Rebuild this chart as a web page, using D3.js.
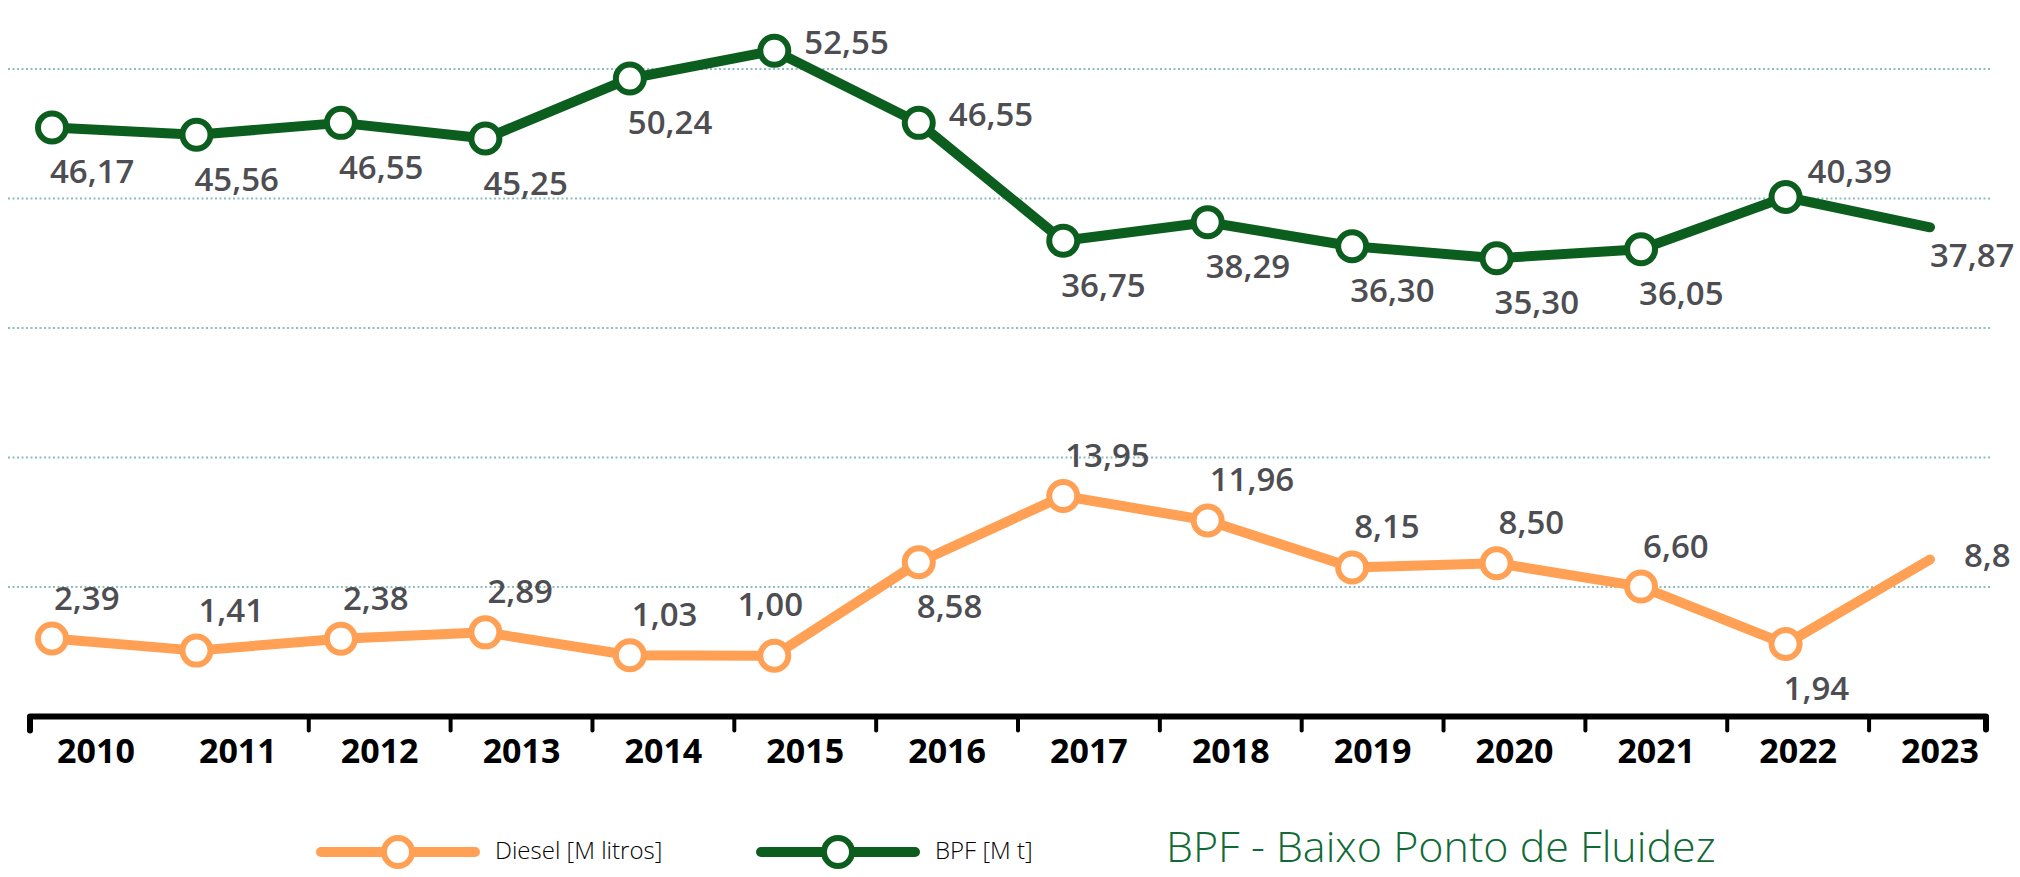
<!DOCTYPE html>
<html>
<head>
<meta charset="utf-8">
<script src="https://cdn.jsdelivr.net/npm/d3@7"></script>
<style>
  html, body { margin: 0; padding: 0; background: #ffffff; }
  svg { display: block; font-family: "Open Sans", "Noto Sans", sans-serif; }
  .narrow { font-stretch: 95%; }
</style>
</head>
<body>
<svg id="chart" width="2020" height="877"></svg>
<script>
// Years on the horizontal axis
const years = ["2010", "2011", "2012", "2013", "2014", "2015", "2016",
               "2017", "2018", "2019", "2020", "2021", "2022", "2023"];

// BPF (Baixo Ponto de Fluidez), millions of tonnes
const bpfValues = [46.17, 45.56, 46.55, 45.25, 50.24, 52.55, 46.55,
                   36.75, 38.29, 36.30, 35.30, 36.05, 40.39, 37.87];
const bpfLabels = ["46,17", "45,56", "46,55", "45,25", "50,24", "52,55", "46,55",
                   "36,75", "38,29", "36,30", "35,30", "36,05", "40,39", "37,87"];

// Diesel, millions of litres
const dieselValues = [2.39, 1.41, 2.38, 2.89, 1.03, 1.00, 8.58,
                      13.95, 11.96, 8.15, 8.50, 6.60, 1.94, 8.8];
const dieselLabels = ["2,39", "1,41", "2,38", "2,89", "1,03", "1,00", "8,58",
                      "13,95", "11,96", "8,15", "8,50", "6,60", "1,94", "8,8"];

// Where each value label sits relative to its point
const bpfLabelSide = ["below", "below", "below", "below", "below", "right", "right",
                      "below", "below", "below", "below", "below", "aboveRight", "end"];
const dieselLabelSide = ["above", "above", "above", "above", "above", "aboveMid", "below",
                         "above", "above", "above", "above", "above", "below", "right"];

// Legend entries
const legendItems = ["Diesel [M litros]", "BPF [M t]"];
const chartTitle = "BPF - Baixo Ponto de Fluidez";

const COLORS = {
  diesel: "#ffa055",
  bpf: "#0c5e1e",
  grid: "#8fbdbd",
  value: "#4d4d52",
  axis: "#000000",
  title: "#0f6a35"
};

const svg = d3.select("#chart");

// Horizontal scales: one for the plotted points, one for the year labels
const xPoint = d3.scalePoint().domain(years).range([52, 1930]);
const xLabel = d3.scalePoint().domain(years).range([96, 1940]);

// Each series has its own vertical band
const yBpf = d3.scaleLinear().domain([30, 55]).range([322, 21.2]);
const yDiesel = d3.scaleLinear().domain([0, 15]).range([668, 483]);

// Dotted guide lines, evenly spread over the plot
const gridRows = d3.range(5);
const yGrid = d3.scaleLinear().domain([0, 4]).range([69, 587]);

svg.append("g")
  .selectAll("line")
  .data(gridRows)
  .join("line")
  .attr("x1", 8)
  .attr("x2", 1992)
  .attr("y1", d => yGrid(d))
  .attr("y2", d => yGrid(d))
  .attr("stroke", COLORS.grid)
  .attr("stroke-width", 2)
  .attr("stroke-dasharray", "2 2.5");

// Bottom axis with ticks between years
const axisY = 716.5;
const axisLeft = 30, axisRight = 1986;
const axisG = svg.append("g");
axisG.append("path")
  .attr("d", `M${axisLeft},${axisY + 14}V${axisY}H${axisRight}V${axisY + 13}`)
  .attr("fill", "none")
  .attr("stroke", COLORS.axis)
  .attr("stroke-width", 6)
  .attr("stroke-linejoin", "round")
  .attr("stroke-linecap", "round");

const tickYears = years.slice(2);
axisG.selectAll("line.tick")
  .data(tickYears)
  .join("line")
  .attr("class", "tick")
  .attr("x1", d => (xLabel(d) + xLabel(years[years.indexOf(d) - 1])) / 2)
  .attr("x2", d => (xLabel(d) + xLabel(years[years.indexOf(d) - 1])) / 2)
  .attr("y1", axisY)
  .attr("y2", axisY + 14)
  .attr("stroke", COLORS.axis)
  .attr("stroke-width", 4)
  .attr("stroke-linecap", "round");

axisG.selectAll("text")
  .data(years)
  .join("text")
  .attr("class", "narrow")
  .attr("x", d => xLabel(d))
  .attr("y", 763)
  .attr("text-anchor", "middle")
  .attr("font-size", 34)
  .attr("font-weight", 700)
  .attr("fill", COLORS.axis)
  .text(d => d);

// Label offsets by side
const OFFSETS = {
  below:      { dx: -2, dy: 56, anchor: "start" },
  right:      { dx: 30, dy: 3,  anchor: "start" },
  aboveRight: { dx: 22, dy: -14, anchor: "start" },
  end:        { dx: 0,  dy: 40, anchor: "start" },
  above:      { dx: 2,  dy: -29, anchor: "start" },
  aboveMid:   { dx: -4, dy: -40, anchor: "middle" }
};
const DIESEL_RIGHT = { dx: 34, dy: 8, anchor: "start" };

function drawSeries(values, labels, sides, yScale, color, endRightOffset) {
  const pts = values.map((v, i) => ({ year: years[i], value: v, label: labels[i], side: sides[i], i }));
  const g = svg.append("g");

  const line = d3.line()
    .x(d => xPoint(d.year))
    .y(d => yScale(d.value));

  g.append("path")
    .datum(pts)
    .attr("d", line)
    .attr("fill", "none")
    .attr("stroke", color)
    .attr("stroke-width", 10)
    .attr("stroke-linejoin", "round")
    .attr("stroke-linecap", "round");

  // Every year but the last carries an open marker
  g.selectAll("circle")
    .data(pts.slice(0, -1))
    .join("circle")
    .attr("cx", d => xPoint(d.year))
    .attr("cy", d => yScale(d.value))
    .attr("r", 14)
    .attr("fill", "#ffffff")
    .attr("stroke", color)
    .attr("stroke-width", 6);

  g.selectAll("text")
    .data(pts)
    .join("text")
    .attr("class", "narrow")
    .each(function (d) {
      const o = (d.side === "right" && endRightOffset) ? endRightOffset : OFFSETS[d.side];
      d3.select(this)
        .attr("x", xPoint(d.year) + o.dx)
        .attr("y", yScale(d.value) + o.dy)
        .attr("text-anchor", o.anchor);
    })
    .attr("font-size", 33)
    .attr("font-weight", 600)
    .attr("fill", COLORS.value)
    .text(d => d.label);
}

drawSeries(dieselValues, dieselLabels, dieselLabelSide, yDiesel, COLORS.diesel, DIESEL_RIGHT);
drawSeries(bpfValues, bpfLabels, bpfLabelSide, yBpf, COLORS.bpf, null);

// Legend
const legendColors = [COLORS.diesel, COLORS.bpf];
const legendX = d3.scalePoint().domain(legendItems).range([321, 761]);
const legendY = 852;
const lg = svg.append("g");
const item = lg.selectAll("g")
  .data(legendItems)
  .join("g")
  .attr("transform", d => `translate(${legendX(d)},${legendY})`);

item.append("line")
  .attr("x1", 0).attr("x2", 154)
  .attr("y1", 0).attr("y2", 0)
  .attr("stroke", (d, i) => legendColors[i])
  .attr("stroke-width", 10)
  .attr("stroke-linecap", "round");

item.append("circle")
  .attr("cx", 77).attr("cy", 0)
  .attr("r", 14)
  .attr("fill", "#ffffff")
  .attr("stroke", (d, i) => legendColors[i])
  .attr("stroke-width", 6);

item.append("text")
  .attr("x", 174)
  .attr("y", 7)
  .attr("font-size", 24)
  .attr("font-weight", 300)
  .attr("fill", "#000000")
  .text(d => d);

svg.append("text")
  .attr("x", 1166)
  .attr("y", 862)
  .attr("font-size", 43)
  .attr("font-weight", 300)
  .attr("fill", COLORS.title)
  .text(chartTitle);
</script>
</body>
</html>
